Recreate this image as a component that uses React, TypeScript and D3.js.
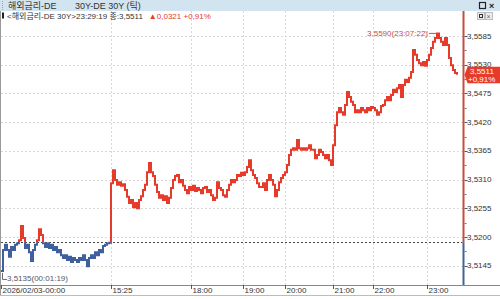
import React from "react";
import * as d3 from "d3";

// ---- data ----
const values: number[] = [
  3.5135, 3.5175, 3.5185, 3.5175, 3.5162, 3.5181, 3.5175, 3.5185, 3.5188, 3.5194,
  3.5221, 3.5198, 3.5179, 3.5185, 3.5171, 3.5154, 3.5175, 3.5185, 3.5194, 3.5215,
  3.5204, 3.5188, 3.5181, 3.5188, 3.5179, 3.5185, 3.5175, 3.5181, 3.5171, 3.5175,
  3.5165, 3.5160, 3.5165, 3.5156, 3.5162, 3.5152, 3.5160, 3.5156, 3.5152, 3.5160,
  3.5156, 3.5165, 3.5156, 3.5144, 3.5160, 3.5165, 3.5160, 3.5171, 3.5165, 3.5175,
  3.5171, 3.5183, 3.5185, 3.5188, 3.5189, 3.5303, 3.5328, 3.5309, 3.5300, 3.5305,
  3.5298, 3.5301, 3.5290, 3.5277, 3.5265, 3.5271, 3.5257, 3.5265, 3.5255, 3.5271,
  3.5278, 3.5290, 3.5300, 3.5324, 3.5342, 3.5324, 3.5317, 3.5300, 3.5286, 3.5275,
  3.5280, 3.5271, 3.5278, 3.5265, 3.5275, 3.5294, 3.5309, 3.5317, 3.5319, 3.5305,
  3.5309, 3.5298, 3.5290, 3.5284, 3.5296, 3.5290, 3.5298, 3.5288, 3.5294, 3.5290,
  3.5284, 3.5294, 3.5296, 3.5286, 3.5290, 3.5280, 3.5271, 3.5275, 3.5305, 3.5294,
  3.5290, 3.5280, 3.5277, 3.5290, 3.5300, 3.5309, 3.5305, 3.5309, 3.5319, 3.5317,
  3.5323, 3.5319, 3.5324, 3.5334, 3.5347, 3.5328, 3.5319, 3.5313, 3.5303, 3.5296,
  3.5296, 3.5303, 3.5290, 3.5309, 3.5319, 3.5309, 3.5300, 3.5278, 3.5290, 3.5305,
  3.5313, 3.5319, 3.5324, 3.5338, 3.5357, 3.5367, 3.5370, 3.5367, 3.5386, 3.5370,
  3.5367, 3.5370, 3.5367, 3.5370, 3.5376, 3.5367, 3.5367, 3.5351, 3.5357, 3.5367,
  3.5363, 3.5357, 3.5351, 3.5357, 3.5347, 3.5338, 3.5376, 3.5414, 3.5439, 3.5447,
  3.5439, 3.5434, 3.5453, 3.5478, 3.5468, 3.5459, 3.5453, 3.5439, 3.5443, 3.5439,
  3.5447, 3.5443, 3.5439, 3.5447, 3.5443, 3.5449, 3.5447, 3.5443, 3.5434, 3.5439,
  3.5451, 3.5453, 3.5462, 3.5468, 3.5462, 3.5472, 3.5482, 3.5478, 3.5485, 3.5491,
  3.5468, 3.5491, 3.5501, 3.5497, 3.5505, 3.5516, 3.5558, 3.5549, 3.5539, 3.5533,
  3.5529, 3.5535, 3.5528, 3.5539, 3.5549, 3.5562, 3.5574, 3.5581, 3.5590, 3.5581,
  3.5574, 3.5568, 3.5581, 3.5568, 3.5543, 3.5529, 3.5520, 3.5514, 3.5511,
];

const xTickLabels = ["2026/02/03-00:00", "15:25", "18:00", "19:00", "20:00", "21:00", "22:00", "23:00"];
const xTickIndex = [0, 55, 95, 121, 142, 166, 186, 213];
const yTicks = [3.5145, 3.52, 3.5255, 3.531, 3.5365, 3.542, 3.5475, 3.553, 3.5585];

const prevClose = 3.519;
const lastValue = 3.5511;
const change = 0.0321;
const changePct = 0.91;
const lastTime = "23:29:19";
const highTime = "23:07:22";
const lowTime = "00:01:19";
const titleName = "해외금리-DE";
const titleSeries = "30Y-DE 30Y (틱)";
const instrument = "<해외금리-DE 30Y>";

const RED = "#e63a2a";
const BLUE = "#3f5f9f";
const FONT = "'Liberation Sans', 'Noto Sans CJK KR', sans-serif";

const fmt = (v: number, d = 4) => v.toFixed(d).replace(".", ",");

export default function App() {
  const x = d3.scaleLinear().domain([0, values.length - 1]).range([1, 457]);
  const y = d3.scaleLinear().domain([3.511, 3.5631]).range([284, 12]);
  const line = d3
    .line<number>()
    .x((_, i) => x(i))
    .y((v) => y(v))
    .curve(d3.curveStepAfter);
  const path = line(values) || "";
  const yRef = y(prevClose);
  const axisX = 463.5;
  const plotTop = 11;
  const plotBottom = 285;

  const hiIdx = values.indexOf(d3.max(values) as number);
  const loIdx = values.indexOf(d3.min(values) as number);
  const hi = values[hiIdx];
  const lo = values[loIdx];
  const yLast = y(lastValue);

  const minorTicks = yTicks.slice(0, -1).map((t) => t + 0.00275);

  return (
    <svg
      width={500}
      height={299}
      style={{ position: "fixed", left: 0, top: 0, display: "block", background: "#fff" }}
      fontFamily={FONT}
    >
      <defs>
        <clipPath id="above">
          <rect x={0} y={0} width={463} height={yRef} />
        </clipPath>
        <clipPath id="below">
          <rect x={0} y={yRef} width={463} height={299 - yRef} />
        </clipPath>
      </defs>

      {/* title bar */}
      <rect x={0} y={0} width={500} height={11} fill="#d3e4f1" />
      <line x1={2.5} y1={1} x2={2.5} y2={10} stroke="#8aa" strokeDasharray="1,1" />
      <text x={8} y={8.5} fontSize={9} fill="#333">{titleName}</text>
      <text x={75} y={8.5} fontSize={9} fill="#333">{titleSeries}</text>
      <rect x={479.5} y={2.5} width={6} height={6} fill="none" stroke="#222" strokeWidth={1.2} />
      <text x={489} y={9} fontSize={9} fontWeight="bold" fill="#222">×</text>

      {/* grid */}
      {yTicks.map((t) => (
        <line key={"gy" + t} x1={1} x2={axisX - 1} y1={Math.round(y(t)) + 0.5} y2={Math.round(y(t)) + 0.5}
          stroke="#d8d8d8" strokeDasharray="2,2" />
      ))}
      {xTickIndex.slice(1).map((i) => (
        <line key={"gx" + i} x1={Math.round(x(i)) + 0.5} x2={Math.round(x(i)) + 0.5} y1={plotTop} y2={plotBottom}
          stroke="#d8d8d8" strokeDasharray="2,2" />
      ))}
      <line x1={0.5} x2={0.5} y1={plotTop} y2={296} stroke="#9a9a9a" />

      {/* header info row */}
      <rect x={2} y={12.5} width={2} height={6} fill="#222" />
      <text x={7} y={19} fontSize={8} fill="#333">
        <tspan>{instrument}{lastTime} 종:{fmt(lastValue)}</tspan>
        <tspan dx={6} fill={RED}>▲{fmt(change)} +{fmt(changePct, 2)}%</tspan>
      </text>
      <rect x={477.5} y={12.5} width={7} height={7} fill="#eee" stroke="#bbb" />
      <rect x={479.5} y={14.5} width={3} height={3} fill="none" stroke="#333" />
      <rect x={485.5} y={12.5} width={7} height={7} fill="#eee" stroke="#bbb" />
      <text x={486.5} y={19} fontSize={7} fill="#666">×</text>

      {/* reference (previous close) */}
      <line x1={1} x2={axisX - 1} y1={Math.round(yRef) + 0.5} y2={Math.round(yRef) + 0.5}
        stroke="#444" strokeDasharray="2,2" />

      {/* price line */}
      <path d={path} fill="none" stroke={RED} strokeWidth={2} clipPath="url(#above)" />
      <path d={path} fill="none" stroke={BLUE} strokeWidth={2} clipPath="url(#below)" />

      {/* high label */}
      <text x={428} y={y(hi) + 3} fontSize={8} fill="#c0504d" textAnchor="end">
        {fmt(hi)}({highTime})
      </text>
      <line x1={429} x2={x(hiIdx) - 1} y1={y(hi)} y2={y(hi)} stroke="#c0504d" />

      {/* low label */}
      <path d={`M${x(loIdx) + 1.5},${y(lo) + 2}V${y(lo) + 8.5}H${x(loIdx) + 6}`} fill="none" stroke="#667" />
      <text x={x(loIdx) + 6} y={y(lo) + 10} fontSize={8} fill="#556">
        {fmt(lo)}({lowTime})
      </text>

      {/* right axis */}
      <line x1={axisX} x2={axisX} y1={plotTop} y2={yRef} stroke="#c94a3f" strokeWidth={2} />
      <line x1={axisX} x2={axisX} y1={yRef} y2={plotBottom} stroke="#41629a" strokeWidth={2} />
      {yTicks.map((t) => (
        <g key={"yt" + t}>
          <line x1={axisX + 1} x2={axisX + 4} y1={Math.round(y(t)) + 0.5} y2={Math.round(y(t)) + 0.5} stroke="#555" />
          <text x={467} y={y(t) + 2.5} fontSize={8} fill="#333">{fmt(t)}</text>
        </g>
      ))}
      {minorTicks.map((t) => (
        <line key={"mt" + t} x1={axisX + 1} x2={axisX + 3} y1={Math.round(y(t)) + 0.5} y2={Math.round(y(t)) + 0.5} stroke="#777" />
      ))}

      {/* current value box */}
      <path
        d={`M${axisX + 1},${yLast}L${axisX + 4},${yLast - 8}H500V${yLast + 8.5}H${axisX + 4}Z`}
        fill={RED}
      />
      <text x={470} y={yLast - 0.5} fontSize={8} fill="#fff">{fmt(lastValue)}</text>
      <text x={468} y={yLast + 7.5} fontSize={8} fill="#fff">+{fmt(changePct, 2)}%</text>

      {/* x axis */}
      <line x1={0} x2={500} y1={plotBottom + 0.5} y2={plotBottom + 0.5} stroke="#888" />
      <line x1={0} x2={500} y1={295.5} y2={295.5} stroke="#bbb" />
      {xTickLabels.map((lab, k) => {
        const xi = Math.round(x(xTickIndex[k])) + 0.5;
        return (
          <g key={"xt" + lab}>
            <line x1={xi} x2={xi} y1={plotBottom} y2={plotBottom + 4} stroke="#555" />
            <text x={xi + 1} y={293} fontSize={8} fill="#333">{lab}</text>
          </g>
        );
      })}
    </svg>
  );
}
